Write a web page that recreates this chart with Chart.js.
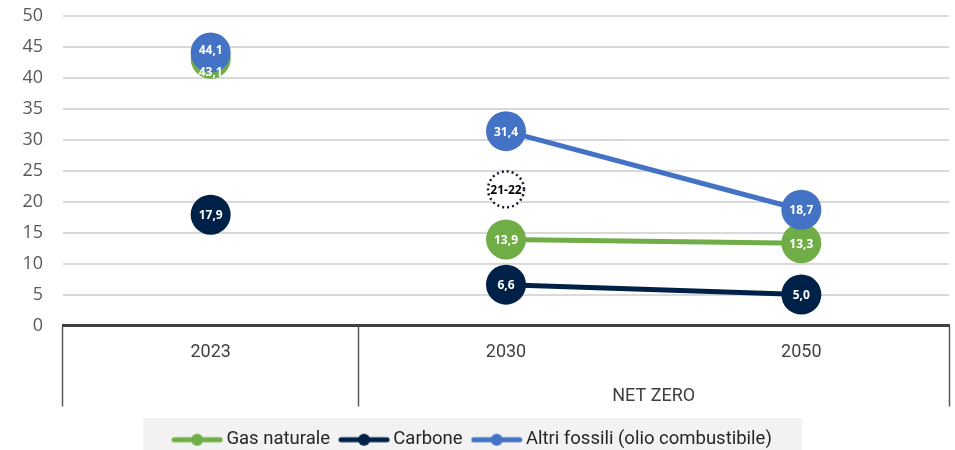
<!DOCTYPE html>
<html>
<head>
<meta charset="utf-8">
<script src="https://cdn.jsdelivr.net/npm/chart.js@4/dist/chart.umd.min.js"></script>
<style>
  html, body { margin: 0; padding: 0; background: #fff; }
  #wrap { width: 955px; height: 450px; }
</style>
</head>
<body>
<div id="wrap"><canvas id="fossilChart"></canvas></div>
<script>
// Categories and series
const years = ['2023', '2030', '2050'];
const groupLabel = 'NET ZERO';
const gasValues = [43.1, 13.9, 13.3];
const coalValues = [17.9, 6.6, 5.0];
const otherValues = [44.1, 31.4, 18.7];
const yTicks = [0, 5, 10, 15, 20, 25, 30, 35, 40, 45, 50];

// Range estimate shown as a dotted bubble in 2030
const rangeLabel = '21-22';
const rangeValue = 22;
const rangeIndex = 1;

const GREEN = '#70ad47';
const NAVY = '#002147';
const BLUE = '#4472c4';
const TEXT_FONT = '"Roboto", sans-serif';

// Line + dot marker for the legend
function legendMarker(color) {
    const c = document.createElement('canvas');
    c.width = 52; c.height = 14;
    const g = c.getContext('2d');
    g.strokeStyle = color;
    g.lineWidth = 5;
    g.lineCap = 'round';
    g.beginPath(); g.moveTo(3, 7); g.lineTo(49, 7); g.stroke();
    g.fillStyle = color;
    g.beginPath(); g.arc(26, 7, 6, 0, Math.PI * 2); g.fill();
    return c;
}

// No line between 2023 and the net zero scenario
function seriesSegment(color) {
    return { borderColor: ctx => ctx.p0DataIndex === 0 ? 'rgba(0,0,0,0)' : color };
}

function makeSeries(label, data, color, order) {
    return {
        label: label,
        data: data,
        borderColor: color,
        backgroundColor: color,
        borderWidth: 5,
        pointRadius: 20,
        pointHoverRadius: 20,
        pointBorderWidth: 0,
        pointBackgroundColor: color,
        segment: seriesSegment(color),
        order: order
    };
}

const fmt = v => v.toFixed(1).replace('.', ',');

// Grey band behind the legend
const legendBackground = {
    id: 'legendBackground',
    beforeDraw(chart) {
        const lg = chart.legend;
        if (!lg || !lg.legendHitBoxes.length) return;
        const boxes = lg.legendHitBoxes;
        const left = Math.min(...boxes.map(b => b.left)) - 34;
        const right = Math.max(...boxes.map(b => b.left + b.width)) + 30;
        const ctx = chart.ctx;
        ctx.save();
        ctx.fillStyle = '#f2f2f2';
        ctx.fillRect(left, 418, right - left, chart.height - 418);
        ctx.restore();
    }
};

// Value labels inside the bubbles, range bubble and group label
const pointLabels = {
    id: 'pointLabels',
    afterDatasetsDraw(chart) {
        const ctx = chart.ctx;
        const xs = chart.scales.x;
        const ys = chart.scales.y;
        const byIndex = {};
        chart.data.datasets.forEach((ds, di) => {
            const meta = chart.getDatasetMeta(di);
            ds.data.forEach((v, i) => {
                if (v == null) return;
                const p = meta.data[i];
                (byIndex[i] = byIndex[i] || []).push({ x: p.x, y: p.y, text: fmt(v) });
            });
        });
        Object.values(byIndex).forEach(list => {
            list.sort((a, b) => a.y - b.y);
            for (let k = 1; k < list.length; k++) {
                const up = list[k - 1], lo = list[k];
                if (lo.y - up.y < 20) {
                    up.y -= 3;
                    lo.y = up.y + 22;
                }
            }
        });
        ctx.save();
        ctx.fillStyle = '#ffffff';
        ctx.font = 'bold 12px "Open Sans", sans-serif';
        ctx.textAlign = 'center';
        ctx.textBaseline = 'middle';
        Object.values(byIndex).forEach(list => list.forEach(l => ctx.fillText(l.text, l.x, l.y + 1)));

        // dotted range bubble
        const rx = xs.getPixelForValue(rangeIndex);
        const ry = ys.getPixelForValue(rangeValue);
        ctx.beginPath();
        ctx.arc(rx, ry, 18, 0, Math.PI * 2);
        ctx.fillStyle = '#ffffff';
        ctx.fill();
        ctx.setLineDash([2, 3]);
        ctx.lineWidth = 2.5;
        ctx.strokeStyle = '#1a1a2e';
        ctx.stroke();
        ctx.setLineDash([]);
        ctx.fillStyle = '#000000';
        ctx.fillText(rangeLabel, rx, ry + 1);

        // scenario label under 2030 and 2050
        const gx = (xs.getPixelForValue(1) + xs.getPixelForValue(2)) / 2;
        ctx.fillStyle = '#404040';
        ctx.font = '18px ' + TEXT_FONT;
        ctx.fillText(groupLabel, gx, xs.top + 71);
        ctx.restore();
    }
};

const ctx = document.getElementById('fossilChart').getContext('2d');
new Chart(ctx, {
    type: 'line',
    data: {
        labels: years,
        datasets: [
            makeSeries('Gas naturale', gasValues, GREEN, 2),
            makeSeries('Carbone', coalValues, NAVY, 1),
            makeSeries('Altri fossili (olio combustibile)', otherValues, BLUE, 0)
        ]
    },
    options: {
        responsive: true,
        maintainAspectRatio: false,
        animation: false,
        layout: { autoPadding: false, padding: { top: 16, right: 6, left: 0, bottom: -9 } },
        plugins: {
            tooltip: { enabled: false },
            legend: {
                position: 'bottom',
                labels: {
                    usePointStyle: true,
                    pointStyleWidth: 40,
                    padding: 14,
                    color: '#262626',
                    font: { family: TEXT_FONT, size: 18.5 },
                    generateLabels(chart) {
                        return chart.data.datasets.map((ds, i) => ({
                            text: ds.label,
                            pointStyle: legendMarker(ds.borderColor),
                            fillStyle: ds.borderColor,
                            strokeStyle: ds.borderColor,
                            lineWidth: 0,
                            hidden: false,
                            datasetIndex: i,
                            fontColor: '#262626'
                        }));
                    }
                }
            }
        },
        scales: {
            x: {
                offset: true,
                afterFit(scale) { scale.height = 91; },
                border: { display: true, color: '#404040', width: 3 },
                grid: {
                    offset: true,
                    drawOnChartArea: false,
                    drawTicks: true,
                    tickLength: 81,
                    tickWidth: 1.5,
                    tickColor: c => c.index === 2 ? 'rgba(0,0,0,0)' : '#595959'
                },
                ticks: {
                    color: '#404040',
                    padding: -65,
                    font: { family: TEXT_FONT, size: 18 }
                }
            },
            y: {
                min: 0,
                max: 50,
                afterBuildTicks(scale) { scale.ticks = yTicks.map(v => ({ value: v })); },
                afterFit(scale) {
                    scale.width = 63;
                    scale.paddingTop = 0;
                    scale.paddingBottom = 0;
                },
                border: { display: false },
                grid: { color: '#d9d9d9', lineWidth: 2, drawTicks: false },
                ticks: {
                    color: '#595959',
                    padding: 20,
                    font: { family: '"Open Sans", sans-serif', size: 18 }
                }
            }
        }
    },
    plugins: [legendBackground, pointLabels]
});
</script>
</body>
</html>
